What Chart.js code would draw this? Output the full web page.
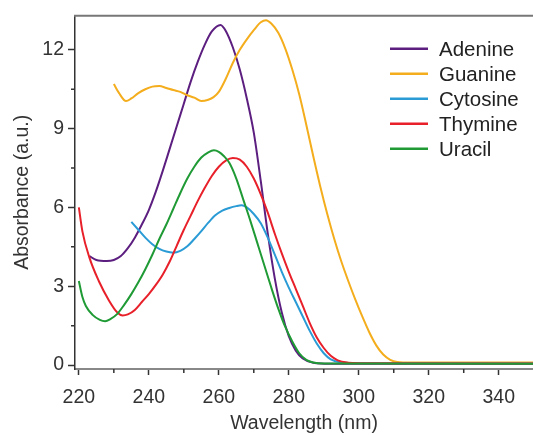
<!DOCTYPE html>
<html><head><meta charset="utf-8">
<script src="https://cdn.jsdelivr.net/npm/chart.js@4.4.0/dist/chart.umd.min.js"></script>
<style>html,body{margin:0;padding:0;background:#fff;}#wrap{width:533px;height:435px;}</style>
</head><body><div id="wrap"><canvas id="c" width="533" height="435"></canvas></div>
<script>
const seriesNames = ['Adenine', 'Guanine', 'Cytosine', 'Thymine', 'Uracil'];
const seriesColors = ['#5c1f80', '#f4ad1c', '#2a9bd5', '#e8202a', '#1f9a35'];

const adenineWl  = [223, 225, 228, 230, 232, 234, 236, 238, 240, 242, 244, 246, 248, 250, 252, 254, 256, 258, 260.5, 262, 264, 266, 268, 270, 272, 274, 276, 278, 280, 282, 284, 287, 292, 350];
const adenineAbs = [4.15, 4.0, 3.96, 4.0, 4.15, 4.45, 4.85, 5.35, 5.9, 6.6, 7.4, 8.25, 9.1, 9.95, 10.8, 11.55, 12.2, 12.7, 12.95, 12.72, 12.1, 11.25, 10.15, 8.85, 7.0, 5.0, 3.3, 2.0, 1.1, 0.55, 0.25, 0.09, 0.05, 0.04];

const guanineWl  = [230, 231.5, 233.5, 235, 237, 239, 241, 243, 245, 247, 249, 251, 253, 255, 257, 258.5, 260, 262, 264, 266, 268, 270, 272, 273.5, 275, 277, 279, 281, 283, 285, 287, 289, 291, 293, 295, 297, 299, 301, 303, 305, 307, 309, 311, 315, 350];
const guanineAbs = [10.7, 10.35, 10.05, 10.15, 10.35, 10.5, 10.6, 10.62, 10.55, 10.47, 10.4, 10.27, 10.18, 10.05, 10.1, 10.2, 10.4, 10.9, 11.5, 12.0, 12.4, 12.75, 13.05, 13.13, 13.0, 12.65, 12.05, 11.25, 10.3, 9.15, 7.95, 6.8, 5.75, 4.8, 3.95, 3.2, 2.5, 1.85, 1.25, 0.75, 0.4, 0.2, 0.12, 0.1, 0.1];

const cytosineWl  = [235, 237, 239, 241, 243, 245, 247, 249, 251, 253, 255, 257, 259, 261, 263, 265, 266.5, 268, 270, 272, 274, 276, 278, 280, 282, 284, 286, 288, 290, 292, 295, 300, 350];
const cytosineAbs = [5.45, 5.15, 4.85, 4.6, 4.42, 4.32, 4.28, 4.35, 4.52, 4.8, 5.1, 5.42, 5.7, 5.88, 5.98, 6.05, 6.08, 6.0, 5.75, 5.4, 4.85, 4.2, 3.55, 2.95, 2.4, 1.85, 1.3, 0.82, 0.45, 0.22, 0.1, 0.07, 0.06];

const thymineWl  = [220, 221, 223, 225.7, 228.6, 231, 232.5, 234, 236, 238, 240, 242, 244, 246, 248, 250, 252, 254, 256, 258, 260, 262, 264, 266, 268, 270, 272, 274, 276, 278, 280, 282, 284, 286, 288, 290, 292, 294, 297, 300, 350];
const thymineAbs = [6.0, 5.1, 4.1, 3.2, 2.46, 2.0, 1.89, 1.93, 2.1, 2.4, 2.7, 3.05, 3.45, 3.95, 4.55, 5.15, 5.7, 6.25, 6.75, 7.2, 7.55, 7.78, 7.88, 7.82, 7.55, 7.1, 6.5, 5.8, 5.0, 4.25, 3.55, 2.9, 2.25, 1.6, 1.05, 0.65, 0.35, 0.18, 0.09, 0.07, 0.06];

const uracilWl  = [220, 221, 222, 224, 226, 227.5, 229, 231, 233, 235, 237, 239, 241, 243, 245, 247, 249, 251, 253, 255, 257, 258.6, 260, 261.5, 263, 265, 267, 269, 271, 273, 275, 277, 279, 281, 283, 285, 287, 290, 350];
const uracilAbs = [3.2, 2.6, 2.25, 1.9, 1.72, 1.67, 1.75, 1.95, 2.3, 2.7, 3.15, 3.65, 4.2, 4.8, 5.35, 5.95, 6.55, 7.1, 7.55, 7.9, 8.1, 8.18, 8.12, 7.95, 7.7, 7.1, 6.3, 5.5, 4.65, 3.8, 2.95, 2.15, 1.45, 0.9, 0.45, 0.2, 0.1, 0.06, 0.05];

const xTicks = [220, 240, 260, 280, 300, 320, 340];
const xMinorTicks = [230, 250, 270, 290, 310, 330];
const yTicks = [0, 3, 6, 9, 12];
const yMinorTicks = [1.5, 4.5, 7.5, 10.5];

const wls = [adenineWl, guanineWl, cytosineWl, thymineWl, uracilWl];
const abss = [adenineAbs, guanineAbs, cytosineAbs, thymineAbs, uracilAbs];

const FONT = "'Liberation Sans', Arial, Helvetica, sans-serif";
Chart.defaults.font.family = FONT;

const datasets = seriesNames.map((name, i) => ({
  label: name,
  data: wls[i].map((w, j) => ({x: w, y: abss[i][j]})),
  borderColor: seriesColors[i],
  backgroundColor: seriesColors[i],
  borderWidth: 2,
  pointRadius: 0,
  cubicInterpolationMode: 'monotone',
  fill: false,
  order: seriesNames.length - 1 - i
}));

const extras = {
  id: 'extras',
  afterDraw(chart) {
    const ctx = chart.ctx;
    const ca = chart.chartArea;
    const xs = chart.scales.x, ys = chart.scales.y;
    ctx.save();
    ctx.strokeStyle = '#777';
    ctx.lineWidth = 2;
    ctx.beginPath();
    ctx.moveTo(ca.left - 1, ca.top);
    ctx.lineTo(ca.right, ca.top);
    ctx.stroke();
    ctx.strokeStyle = '#333';
    ctx.lineWidth = 1.5;
    ctx.beginPath();
    xMinorTicks.forEach(v => {
      const px = xs.getPixelForValue(v);
      ctx.moveTo(px, ca.bottom);
      ctx.lineTo(px, ca.bottom + 4);
    });
    yMinorTicks.forEach(v => {
      const py = ys.getPixelForValue(v);
      ctx.moveTo(ca.left, py);
      ctx.lineTo(ca.left - 4, py);
    });
    ctx.stroke();
    const x0 = ca.right - 143;
    ctx.font = '20.5px ' + FONT;
    ctx.textBaseline = 'middle';
    ctx.textAlign = 'left';
    chart.data.datasets.forEach((ds, i) => {
      const y = ca.top + 33 + i * 25;
      ctx.strokeStyle = ds.borderColor;
      ctx.lineWidth = 2.5;
      ctx.beginPath();
      ctx.moveTo(x0, y);
      ctx.lineTo(x0 + 38, y);
      ctx.stroke();
      ctx.fillStyle = '#222';
      ctx.fillText(ds.label, x0 + 49, y + 1.5);
    });
    ctx.restore();
  }
};

new Chart(document.getElementById('c'), {
  type: 'line',
  data: {datasets},
  options: {
    responsive: false,
    animation: false,
    devicePixelRatio: 1,
    layout: {padding: {top: 14, right: 0, left: 0, bottom: 0}},
    plugins: {legend: {display: false}, tooltip: {enabled: false}},
    scales: {
      x: {
        type: 'linear', min: 218.9, max: 349.8,
        afterBuildTicks: s => { s.ticks = xTicks.map(v => ({value: v})); },
        afterFit: s => { s.height = 66; },
        ticks: {font: {size: 19.5}, color: '#333', padding: 11, maxRotation: 0, autoSkip: false},
        grid: {drawOnChartArea: false, tickLength: 6, tickColor: '#333', tickWidth: 1.5},
        border: {color: '#888', width: 2},
        title: {display: true, text: 'Wavelength (nm)', font: {size: 19.5}, color: '#333', padding: {top: 0, bottom: 0}}
      },
      y: {
        type: 'linear', min: -0.15, max: 13.3,
        afterBuildTicks: s => { s.ticks = yTicks.map(v => ({value: v})); },
        afterFit: s => { s.width = 75; },
        ticks: {font: {size: 19.5}, color: '#333', padding: 4},
        grid: {drawOnChartArea: false, tickLength: 7, tickColor: '#333', tickWidth: 1.5},
        border: {color: '#333', width: 1.5},
        title: {display: true, text: 'Absorbance (a.u.)', font: {size: 19.5}, color: '#333', padding: {top: 11, bottom: 0}}
      }
    }
  },
  plugins: [extras]
});
</script></body></html>
